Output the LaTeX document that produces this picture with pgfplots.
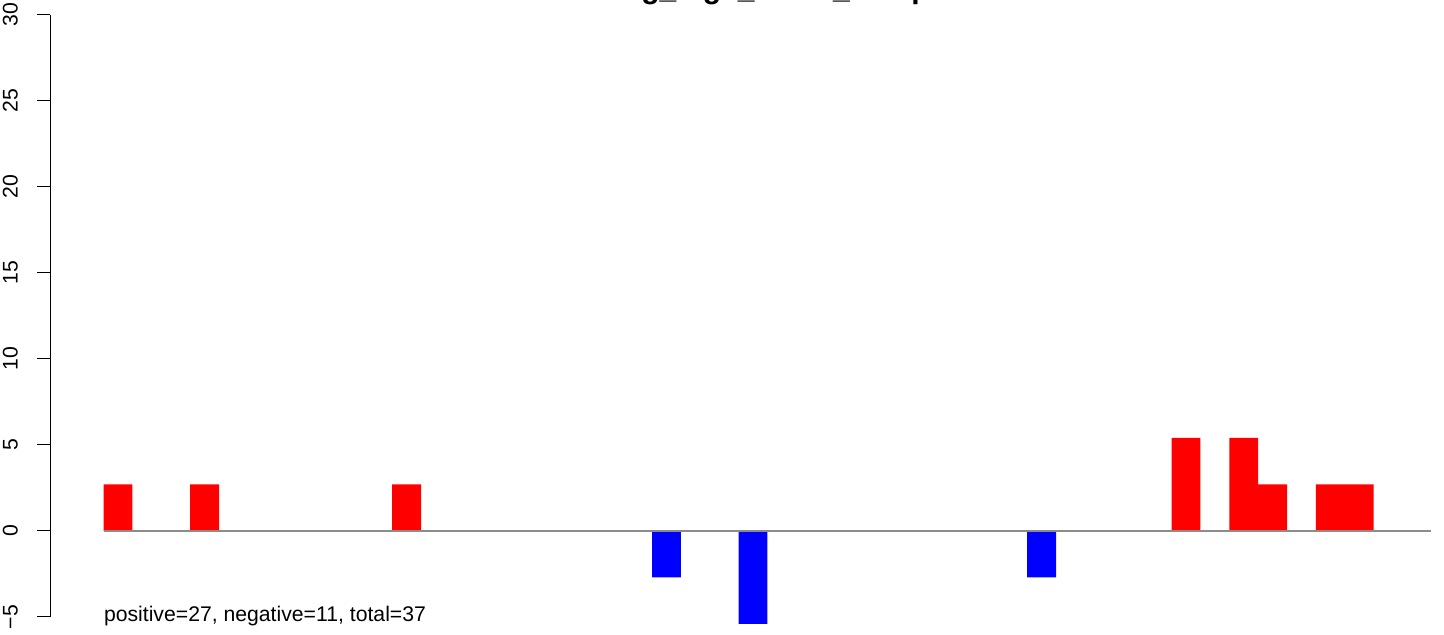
\documentclass[border=0pt]{standalone}
\usepackage{pgfplots}
\pgfplotsset{compat=1.18}
\usepackage{fontspec}
\setmainfont{Liberation Sans}
\definecolor{zerogray}{RGB}{140,140,140}
\begin{document}
\begin{tikzpicture}[x=1pt,y=1pt]
\useasboundingbox (0,0) rectangle (722,317.5);
\begin{axis}[
  at={(25.25pt,0pt)}, anchor=south west,
  scale only axis, width=696.75pt, height=317.5pt,
  xmin=-1.84, xmax=46.44, ymin=-6.05, ymax=30.87,
  axis line style={draw=none},
  xtick=\empty,
  ytick={-5,0,5,10,15,20,25,30},
  yticklabels={−5,0,5,10,15,20,25,30},
  ytick pos=left, tick align=outside,
  major tick length=6.8pt,
  tick style={black, line width=0.5pt},
  yticklabel style={xshift=-6pt, font=\fontsize{10.6}{12}\selectfont, rotate=90, anchor=south},
  /pgf/number format/assume math mode=true,
  clip=false,
  ybar, bar width=1, bar shift=0,
]
\addplot[fill=red, draw=none] coordinates {
  (0.5,2.70) (3.5,2.70) (10.5,2.70) (37.5,5.41) (39.5,5.41) (40.5,2.70) (42.5,2.70) (43.5,2.70)
};
\addplot[fill=blue, draw=none] coordinates {
  (19.5,-2.70) (22.5,-5.41) (32.5,-2.70)
};
\addplot[sharp plot, draw=zerogray, line width=0.6pt, no marks] coordinates {(0,0) (46,0)};
\draw[black, line width=0.5pt] (axis cs:-1.84,-5) -- (axis cs:-1.84,30);
\node[anchor=base west, font=\fontsize{10.6}{12}\selectfont, inner sep=0pt] at (axis cs:0,-5.29) {positive=27, negative=11, total=37};
\end{axis}
\node[overlay, anchor=base, inner sep=0pt, font=\bfseries\fontsize{15}{18}\selectfont] at (384,318) {flag\_log2\_mean\_comp};
\end{tikzpicture}
\end{document}
